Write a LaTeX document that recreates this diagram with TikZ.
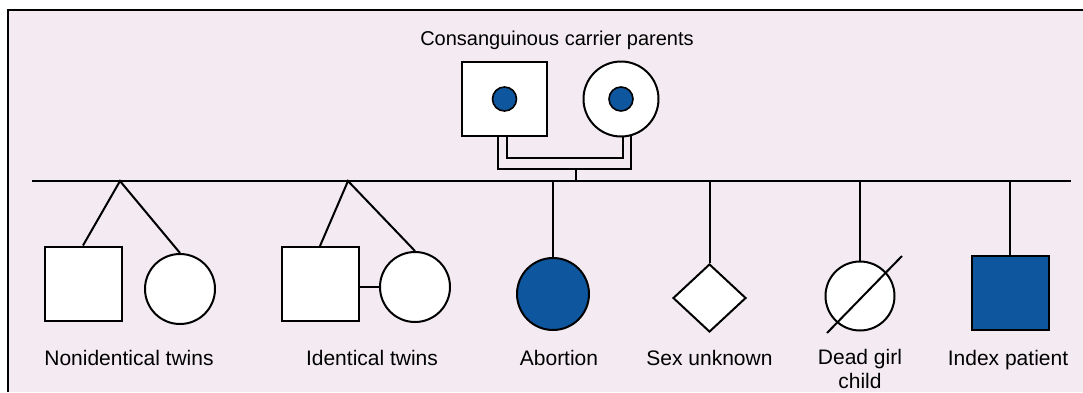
\documentclass[tikz,border=0pt]{standalone}
\usepackage{fontspec}
\setmainfont{Liberation Sans}
\usetikzlibrary{shapes.geometric}
\definecolor{pedblue}{RGB}{14,86,158}
\definecolor{bgpink}{RGB}{243,235,241}

\begin{document}
\begin{tikzpicture}
[
	x=0.5pt,y=-0.5pt,
	line width=1pt,
	male/.style={rectangle,draw=black,fill=white,line width=1pt,minimum width=38.5pt,minimum height=37pt,inner sep=0pt},
	female/.style={circle,draw=black,fill=white,line width=1pt,minimum size=35pt,inner sep=0pt},
	unknown/.style={diamond,draw=black,fill=white,line width=1pt,minimum width=36.5pt,minimum height=34pt,inner sep=0pt},
	carrier/.style={circle,draw=black,fill=pedblue,line width=0.8pt,minimum size=12pt,inner sep=0pt},
	lbl/.style={anchor=base,font=\fontsize{10.5}{12}\selectfont,align=center},
]
	\useasboundingbox (0,0) rectangle (1083,392);
	\fill[bgpink] (8,10) rectangle (1083,392);
	\draw[line width=1.2pt] (8,392) -- (8,10) -- (1083,10);

	% parents
	\begin{scope}
		\node[lbl,font=\fontsize{10}{12}\selectfont] (ttl) at (557,45) {Consanguinous carrier parents};
		\node[male,minimum width=42.5pt,minimum height=37pt] (fa) at (504.5,99) {};
		\node[female,minimum size=37.5pt] (mo) at (621,99) {};
		\node[carrier] (fad) at (fa.center) {};
		\node[carrier] (mod) at (mo.center) {};

		\draw ([xshift=-3.25pt]fa.south) -- ++(0,32) -| (mo.-75);
		\draw ([xshift=1.25pt]fa.south) -- ++(0,21) -| (mo.-87);
	\end{scope}

	% sibship line
	\coordinate (sl) at (32,181);
	\coordinate (sr) at (1071,181);
	\coordinate (cpl) at (576,168);
	\draw (sl) -- (sr);
	\draw (cpl) -- (cpl |- sl);

	% twins
	\begin{scope}
		\coordinate (tw1) at (120,181);
		\node[male] (nsq) at (83,283.5) {};
		\node[female] (nci) at (180,289) {};
		\draw (nsq.north) -- (tw1) -- (nci.north);

		\coordinate (tw2) at (348,181);
		\node[male] (isq) at (320,284) {};
		\node[female] (ici) at (415,287) {};
		\draw (isq.north) -- (tw2) -- (ici.north);
		\draw (ici.west) -- (ici.west -| isq.east);
	\end{scope}

	% other children
	\begin{scope}
		\node[female,fill=pedblue,minimum size=36pt] (ab) at (553,294) {};
		\node[unknown] (su) at (709.5,298) {};
		\node[female,minimum size=34.5pt] (dg) at (860,296) {};
		\node[male,fill=pedblue] (ip) at (1010,292.5) {};

		\draw (ab.north) -- (ab.north |- sl);
		\draw (su.north) -- (su.north |- sl);
		\draw (dg.north) -- (dg.north |- sl);
		\draw (ip.north) -- (ip.north |- sl);
		\draw ([shift={(-33,37)}]dg.center) -- ([shift={(42,-40)}]dg.center);
	\end{scope}

	% labels
	\node[lbl] (lnt) at (129,365) {Nonidentical twins};
	\node[lbl] (lit) at (372,365) {Identical twins};
	\node[lbl] (lab) at (559,365) {Abortion};
	\node[lbl] (lsu) at (709.5,365) {Sex unknown};
	\node[lbl] (ldg) at (860,388) {Dead girl\\child};
	\node[lbl] (lip) at (1008,365) {Index patient};
\end{tikzpicture}
\end{document}
